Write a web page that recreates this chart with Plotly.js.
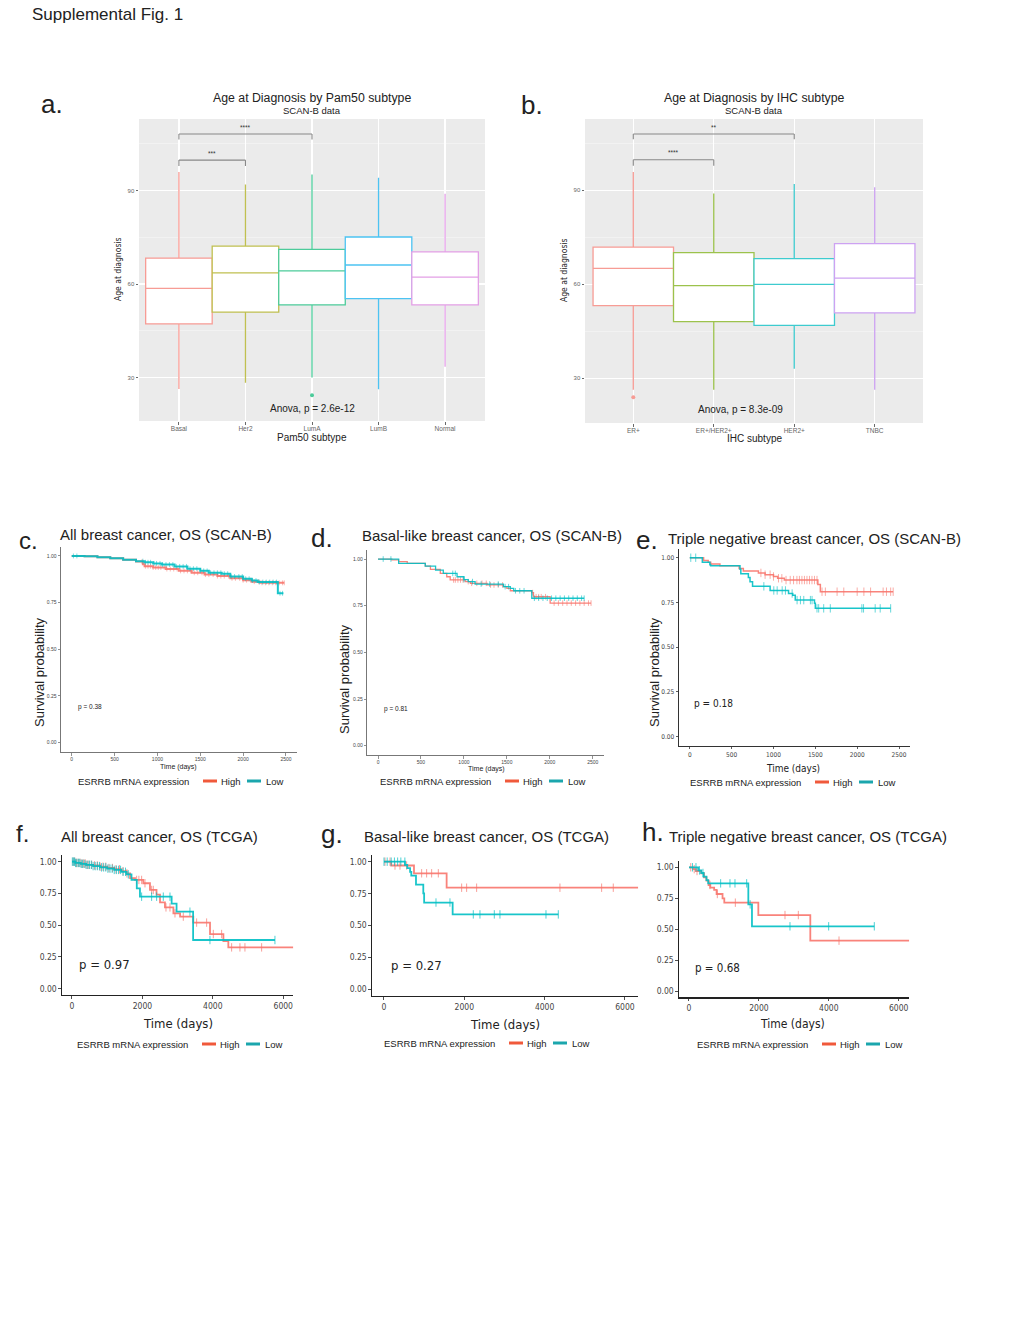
<!DOCTYPE html>
<html><head><meta charset="utf-8">
<script src="https://cdn.plot.ly/plotly-3.0.1.min.js"></script>
<style>html,body{margin:0;padding:0;background:#fff}#fig{width:1020px;height:1320px}</style>
</head><body><div id="fig"></div>
<script>
// ================= DATA =================
// Panel a: Age at diagnosis by Pam50 subtype (box statistics)
const pam50Cats = ['Basal','Her2','LumA','LumB','Normal'];
const pam50Q1 = [47.2,51.0,53.3,55.3,53.3];
const pam50Median = [58.6,63.6,64.2,66.1,62.2];
const pam50Q3 = [68.3,72.2,71.1,75.1,70.3];
const pam50Lower = [26.3,28.3,30.0,26.2,33.4];
const pam50Upper = [96.0,92.0,95.2,94.1,89.0];
const pam50OutCat = ['LumA'];
const pam50OutAge = [24.3];
const pam50Comp = [['Basal','LumA','****'],['Basal','Her2','***']];
const pam50Anova = 'Anova, p = 2.6e-12';

// Panel b: Age at diagnosis by IHC subtype
const ihcCats = ['ER+','ER+/HER2+','HER2+','TNBC'];
const ihcQ1 = [53.2,48.1,46.9,50.9];
const ihcMedian = [65.1,59.6,60.0,62.0];
const ihcQ3 = [71.9,70.1,68.2,73.0];
const ihcLower = [26.3,26.3,33.0,26.3];
const ihcUpper = [95.9,89.0,92.0,91.0];
const ihcOutCat = ['ER+'];
const ihcOutAge = [23.9];
const ihcComp = [['ER+','HER2+','**'],['ER+','ER+/HER2+','****']];
const ihcAnova = 'Anova, p = 8.3e-09';

// Panel c: All breast cancer, OS (SCAN-B)
const cHighT = [0,150,300,450,600,750,830,850,950,1100,1250,1400,1550,1700,1850,2000,2100,2200,2480];
const cHighS = [1,0.998,0.993,0.988,0.98,0.97,0.955,0.945,0.938,0.93,0.92,0.91,0.9,0.892,0.88,0.87,0.862,0.856,0.856];
const cLowT = [0,150,300,450,600,750,850,950,1050,1200,1350,1500,1600,1750,1850,2000,2100,2170,2405,2470];
const cLowS = [1,0.998,0.993,0.987,0.98,0.972,0.966,0.96,0.954,0.944,0.932,0.92,0.91,0.905,0.89,0.878,0.868,0.86,0.8,0.8];
const cHighCens = [820,860,890,920,950,980,1010,1040,1080,1110,1150,1190,1230,1270,1310,1350,1390,1430,1470,1520,1560,1600,1650,1700,1740,1780,1830,1870,1910,1960,2000,2040,2090,2130,2180,2220,2260,2300,2340,2380,2420,2460,2480];
const cLowCens = [20,60,830,860,890,920,960,990,1030,1060,1100,1140,1180,1220,1260,1300,1340,1380,1420,1460,1500,1540,1580,1620,1660,1700,1740,1780,1820,1860,1900,1950,1990,2030,2070,2110,2150,2190,2230,2270,2310,2350,2390,2430,2460];
const cP = 'p = 0.38';

// Panel d: Basal-like breast cancer, OS (SCAN-B)
const dHighT = [0,160,240,340,550,610,725,800,840,1015,1075,1270,1460,1500,1540,1790,1810,2004,2480];
const dHighS = [1,0.995,0.986,0.977,0.962,0.945,0.923,0.905,0.888,0.879,0.87,0.861,0.852,0.843,0.83,0.82,0.798,0.764,0.764];
const dLowT = [0,240,550,670,760,920,1000,1050,1130,1460,1540,1580,1790,2400];
const dLowS = [1,0.977,0.962,0.941,0.923,0.905,0.89,0.879,0.866,0.852,0.843,0.83,0.79,0.79];
const dHighCens = [880,900,930,960,990,1050,1090,1150,1210,1260,1310,1350,1400,1450,1800,1840,1870,1900,1950,2050,2100,2150,2200,2250,2300,2350,2400,2450,2480];
const dLowCens = [60,150,870,900,1000,1100,1200,1300,1400,1480,1520,1600,1650,1700,1820,1870,1920,1970,2020,2070,2120,2170,2220,2270,2320,2370,2400];
const dP = 'p = 0.81';

// Panel e: Triple negative breast cancer, OS (SCAN-B)
const eHighT = [0,165,220,250,360,590,640,820,900,1000,1050,1130,1530,1560,2430];
const eHighS = [1,0.985,0.975,0.965,0.955,0.94,0.925,0.915,0.905,0.895,0.885,0.875,0.85,0.81,0.81];
const eLowT = [0,150,240,250,600,610,700,720,750,960,1180,1230,1260,1490,1500,2400];
const eLowS = [1,0.975,0.96,0.955,0.935,0.91,0.89,0.865,0.84,0.817,0.8,0.79,0.763,0.745,0.717,0.717];
const eHighCens = [850,900,960,1000,1060,1100,1150,1200,1240,1280,1310,1340,1370,1400,1430,1460,1490,1520,1580,1620,1760,1840,2000,2080,2160,2310,2350,2400,2430];
const eLowCens = [12,71,885,1004,1044,1104,1143,1223,1282,1322,1362,1441,1461,1520,1540,1600,1679,2056,2076,2215,2275,2400];
const eP = 'p = 0.18';

// Panel f: All breast cancer, OS (TCGA)
const fHighT = [0,100,250,400,600,800,1000,1200,1400,1550,1650,1790,2025,2215,2400,2500,2640,2880,3070,3445,3920,4300,4440,6285];
const fHighS = [1,0.99,0.985,0.975,0.97,0.96,0.95,0.94,0.925,0.908,0.87,0.856,0.83,0.777,0.74,0.68,0.64,0.593,0.567,0.52,0.43,0.375,0.325,0.325];
const fLowT = [0,100,250,400,600,800,1000,1200,1400,1550,1690,1840,1930,2830,2970,3440,5764];
const fLowS = [1,0.99,0.983,0.975,0.965,0.955,0.945,0.935,0.92,0.9,0.856,0.79,0.724,0.67,0.606,0.383,0.383];
const fHighCens = [30,80,130,180,230,280,330,380,430,480,560,640,720,800,880,960,1050,1150,1250,1350,1450,1560,1836,1900,1978,2073,2262,2309,2669,2783,2925,3161,3540,3824,4013,4250,4534,4770,4912,5386];
const fLowCens = [10,40,70,100,140,180,220,260,300,350,400,450,500,550,600,660,720,780,840,900,960,1020,1080,1140,1200,1260,1320,1380,1450,1520,1600,1978,2262,2404,2593,2783,3350,3918,5764];
const fP = 'p = 0.97';

// Panel g: Basal-like breast cancer, OS (TCGA)
const gHighT = [0,180,747,1560,6330];
const gHighS = [1,0.97,0.909,0.796,0.796];
const gLowT = [0,523,580,650,680,797,979,1000,1710,4341];
const gLowS = [1,0.975,0.95,0.92,0.89,0.82,0.752,0.68,0.587,0.587];
const gHighCens = [25,150,274,398,564,938,1062,1187,1353,1934,2058,2307,4382,5420,5710];
const gLowCens = [0,80,180,260,340,420,520,1295,1643,2224,2390,2747,2888,4034,4341];
const gP = 'p = 0.27';

// Panel h: Triple negative breast cancer, OS (TCGA)
const hHighT = [0,124,200,350,430,500,560,610,720,790,960,1010,1984,3471,6300];
const hHighS = [1,0.985,0.97,0.951,0.919,0.892,0.857,0.836,0.817,0.784,0.749,0.714,0.614,0.407,0.407];
const hLowT = [0,267,350,420,500,550,1698,1802,5302];
const hLowS = [1,0.975,0.954,0.925,0.897,0.87,0.70,0.523,0.523];
const hHighCens = [50,150,230,600,810,1326,2747,3128,4292];
const hLowCens = [100,200,300,400,906,1173,1316,1650,1750,2890,3996,5302];
const hP = 'p = 0.68';

const kmTitles = ['All breast cancer, OS (SCAN-B)','Basal-like breast cancer, OS (SCAN-B)','Triple negative breast cancer, OS (SCAN-B)',
                  'All breast cancer, OS (TCGA)','Basal-like breast cancer, OS (TCGA)','Triple negative breast cancer, OS (TCGA)'];
const groupLabels = ['High','Low'];
const legendTitle = 'ESRRB mRNA expression';

// ================= STYLE / LAYOUT =================
const W=1020,H=1320;
const PX=v=>v/W, PY=v=>1-v/H;
const RED='#F8766D', TEAL='#00BFC4', KEYRED='#F0593B', KEYTEAL='#1BA6AD';
const F='Liberation Sans, Arial, Helvetica, sans-serif';
const FN='DejaVu Sans Condensed, Liberation Sans Narrow, Arial Narrow, sans-serif';
const pamColors=['#F79C95','#C0C050','#4CCB9A','#4CC3F2','#E3A0E6'];
const ihcColors=['#F79C95','#9CC24C','#3ECBCF','#CDA2F2'];

function stepAt(T,S,t){let v=S[0];for(let i=0;i<T.length;i++){if(T[i]<=t)v=S[i];else break;}return v;}

const traces=[], shapes=[], annotations=[];
const layout={width:W,height:H,margin:{l:0,r:0,t:0,b:0},paper_bgcolor:'white',plot_bgcolor:'rgba(0,0,0,0)',
  showlegend:false,font:{family:F,color:'#222'},hovermode:false};

function txt(text,x,y,size,opts){annotations.push(Object.assign({text:text,x:PX(x),y:PY(y),xref:'paper',yref:'paper',
  showarrow:false,xanchor:'left',yanchor:'middle',font:{family:F,size:size,color:'#222'}},opts||{}));}

// ---- Box panels ----
function boxPanel(ax,cats,q1,med,q3,lo,hi,outCat,outAge,colors,comp,anova,cfg){
  const xa='x'+(ax===1?'':ax), ya='y'+(ax===1?'':ax);
  cats.forEach((c,i)=>{
    traces.push({type:'box',x:[c],q1:[q1[i]],median:[med[i]],q3:[q3[i]],lowerfence:[lo[i]],upperfence:[hi[i]],
      xaxis:xa,yaxis:ya,width:1,whiskerwidth:0,fillcolor:'white',boxpoints:false,
      line:{color:colors[i],width:1.3},hoverinfo:'skip'});
  });
  outCat.forEach((c,i)=>{
    traces.push({type:'scatter',mode:'markers',x:[c],y:[outAge[i]],xaxis:xa,yaxis:ya,
      marker:{color:colors[cats.indexOf(c)],size:4},hoverinfo:'skip'});
  });
  const axn=ax===1?'':ax;
  layout['xaxis'+axn]={domain:[PX(cfg.l),PX(cfg.r)],anchor:ya,type:'category',categoryorder:'array',categoryarray:cats,
    range:[-0.6,cats.length-0.4],showgrid:true,gridcolor:'white',gridwidth:1.2,zeroline:false,showline:false,
    ticks:'outside',ticklen:2.5,tickcolor:'#444',tickwidth:0.8,ticklabelstandoff:-1,
    tickfont:{size:6.5,color:'#666',family:F},fixedrange:true};
  layout['yaxis'+axn]={domain:[PY(cfg.b),PY(cfg.t)],anchor:xa,range:cfg.yr,tickvals:[30,60,90],
    showgrid:true,gridcolor:'white',gridwidth:1.2,zeroline:false,showline:false,
    minor:{tickvals:[45,75,105],showgrid:true,gridcolor:'#F6F6F6',gridwidth:0.6,ticks:''},
    ticks:'outside',ticklen:2.5,tickcolor:'#444',tickwidth:0.8,tickfont:{size:6,color:'#666',family:F},fixedrange:true};
  shapes.push({type:'rect',xref:xa+' domain',yref:ya+' domain',x0:0,x1:1,y0:0,y1:1,fillcolor:'#EBEBEB',line:{width:0},layer:'below'});
  comp.forEach((cp,k)=>{
    const i0=cats.indexOf(cp[0]), i1=cats.indexOf(cp[1]);
    const yTop=cfg.br[k][0], yLeg=cfg.br[k][1];
    const ln={color:'#888',width:1.1};
    shapes.push({type:'line',xref:xa,yref:ya,x0:i0,x1:i1,y0:yTop,y1:yTop,line:ln});
    shapes.push({type:'line',xref:xa,yref:ya,x0:i0,x1:i0,y0:yLeg,y1:yTop,line:ln});
    shapes.push({type:'line',xref:xa,yref:ya,x0:i1,x1:i1,y0:yLeg,y1:yTop,line:ln});
    annotations.push({text:cp[2],xref:xa,yref:ya,x:(i0+i1)/2,y:yTop+2.2,showarrow:false,font:{size:6.5,color:'#333',family:F}});
  });
  annotations.push({text:anova,xref:xa,yref:ya,x:cfg.anX,y:20,showarrow:false,font:{size:10,color:'#222',family:F}});
  const cx=(cfg.l+cfg.r)/2;
  txt(cfg.title,cx,cfg.t-20.5,12.3,{xanchor:'center'});
  txt('SCAN-B data',cx,cfg.t-9,9.5,{xanchor:'center'});
  txt(cfg.xtitle,cx,cfg.b+16,10,{xanchor:'center'});
  txt('Age at diagnosis',cfg.l-21,(cfg.t+cfg.b)/2,8.5,{xanchor:'center',textangle:-90,font:{family:FN,size:8.5,color:'#222'}});
}

boxPanel(1,pam50Cats,pam50Q1,pam50Median,pam50Q3,pam50Lower,pam50Upper,pam50OutCat,pam50OutAge,pamColors,pam50Comp,pam50Anova,
  {l:139,r:485,t:119,b:421,yr:[16,113],br:[[108.2,106.4],[99.8,97.9]],anX:2,title:'Age at Diagnosis by Pam50 subtype',xtitle:'Pam50 subtype'});
boxPanel(2,ihcCats,ihcQ1,ihcMedian,ihcQ3,ihcLower,ihcUpper,ihcOutCat,ihcOutAge,ihcColors,ihcComp,ihcAnova,
  {l:585,r:923,t:119,b:423,yr:[15.7,112.8],br:[[108.0,106.3],[99.8,97.9]],anX:1.33,title:'Age at Diagnosis by IHC subtype',xtitle:'IHC subtype'});

// ---- KM panels ----
const kmData=[
  [cHighT,cHighS,cLowT,cLowS,cHighCens,cLowCens,cP],
  [dHighT,dHighS,dLowT,dLowS,dHighCens,dLowCens,dP],
  [eHighT,eHighS,eLowT,eLowS,eHighCens,eLowCens,eP],
  [fHighT,fHighS,fLowT,fLowS,fHighCens,fLowCens,fP],
  [gHighT,gHighS,gLowT,gLowS,gHighCens,gLowCens,gP],
  [hHighT,hHighS,hLowT,hLowS,hHighCens,hLowCens,hP]];
const kmCfg=[
  {l:61,r:296.7,t:546.6,b:752,xr:[-125,2625],dt:500,tf:5,tfam:F,lc:'#777',lw:1,lwid:2,ms:3.5,mop:0.5,so:-1,
   title:[58,534],ytitle:[40,672],xtitle:[178,766.5,7,F],p:[76,707,6.5,F],leg:[76,781]},
  {l:367.3,r:603.5,t:549.7,b:755,xr:[-125,2625],dt:500,tf:5,tfam:F,lc:'#777',lw:1,lwid:1.3,ms:4,mop:0.6,so:-1,
   title:[360,536],ytitle:[344,679],xtitle:[486,768.5,7,F],p:[382,709,6.5,F],leg:[378,781]},
  {l:679.3,r:909.5,t:548.75,b:745.65,xr:[-125,2625],dt:500,tf:6.5,tfam:FN,lc:'#333',lw:1.2,lwid:1.5,ms:6,mop:0.6,so:0,
   title:[666,538],ytitle:[655,672],xtitle:[793,769,10,FN],p:[692,703,10,FN],leg:[688,782]},
  {l:62.3,r:293.3,t:855.3,b:995,xr:[-275,6285],dt:2000,tf:8.5,tfam:FN,lc:'#222',lw:1.4,lwid:1.8,ms:6,mop:0.7,so:0,
   title:[59,837],ytitle:null,xtitle:[178,1023,13,FN],p:[77,964,13,FN],leg:[75,1044]},
  {l:372.3,r:638.3,t:855.3,b:995.7,xr:[-291,6333],dt:2000,tf:8.5,tfam:FN,lc:'#222',lw:1.4,lwid:1.8,ms:6,mop:0.7,so:0,
   title:[362,837],ytitle:null,xtitle:[505,1024,13,FN],p:[389,965,13,FN],leg:[382,1043]},
  {l:679.3,r:909.3,t:861.1,b:997.2,xr:[-277,6303],dt:2000,tf:8.5,tfam:FN,lc:'#222',lw:1.4,lwid:1.8,ms:6,mop:0.7,so:0,
   title:[667,836],ytitle:null,xtitle:[792,1024,12,FN],p:[693,968,11.5,FN],leg:[695,1044]}];

kmData.forEach((d,k)=>{
  const c=kmCfg[k], n=k+3, xa='x'+n, ya='y'+n;
  const series=[[d[0],d[1],d[4],RED],[d[2],d[3],d[5],TEAL]];
  series.forEach(s=>{
    traces.push({type:'scatter',mode:'lines',x:s[0],y:s[1],xaxis:xa,yaxis:ya,line:{shape:'hv',color:s[3],width:c.lwid},opacity:0.9,hoverinfo:'skip'});
    traces.push({type:'scatter',mode:'markers',x:s[2],y:s[2].map(t=>stepAt(s[0],s[1],t)),xaxis:xa,yaxis:ya,opacity:c.mop,
      marker:{symbol:'line-ns-open',size:c.ms,color:s[3],line:{color:s[3],width:1}},hoverinfo:'skip'});
  });
  layout['xaxis'+n]={domain:[PX(c.l),PX(c.r)],anchor:ya,range:c.xr,dtick:c.dt,tick0:0,showgrid:false,zeroline:false,
    showline:true,linecolor:c.lc,linewidth:c.lw,ticks:'outside',ticklen:2.5,tickcolor:c.lc,tickwidth:0.8,ticklabelstandoff:c.so,
    tickfont:{size:c.tf,family:c.tfam,color:'#444'},fixedrange:true};
  layout['yaxis'+n]={domain:[PY(c.b),PY(c.t)],anchor:xa,range:[-0.05,1.05],tickvals:[0,0.25,0.5,0.75,1],
    ticktext:['0.00','0.25','0.50','0.75','1.00'],showgrid:false,zeroline:false,
    showline:true,linecolor:c.lc,linewidth:c.lw,ticks:'outside',ticklen:2.5,tickcolor:c.lc,tickwidth:0.8,
    tickfont:{size:c.tf,family:c.tfam,color:'#444'},fixedrange:true};
  txt(kmTitles[k],c.title[0],c.title[1],15);
  if(c.ytitle) txt('Survival probability',c.ytitle[0],c.ytitle[1],13,{xanchor:'center',textangle:-90});
  txt('Time (days)',c.xtitle[0],c.xtitle[1],c.xtitle[2],{xanchor:'center',font:{family:c.xtitle[3],size:c.xtitle[2],color:'#222'}});
  txt(d[6],c.p[0],c.p[1],c.p[2],{font:{family:c.p[3],size:c.p[2],color:'#222'}});
  const lx=c.leg[0], ly=c.leg[1];
  txt(legendTitle,lx,ly,9.5);
  shapes.push({type:'line',xref:'paper',yref:'paper',x0:PX(lx+127),x1:PX(lx+141),y0:PY(ly),y1:PY(ly),line:{color:KEYRED,width:3}});
  txt(groupLabels[0],lx+143,ly,9.5);
  shapes.push({type:'line',xref:'paper',yref:'paper',x0:PX(lx+171),x1:PX(lx+185),y0:PY(ly),y1:PY(ly),line:{color:KEYTEAL,width:3}});
  txt(groupLabels[1],lx+188,ly,9.5);
});

// ---- Figure & panel labels ----
txt('Supplemental Fig. 1',30,14,17);
[['a.',39,104,26],['b.',519,105,26],['c.',17,540,24],['d.',309,538,26],['e.',634,540,26],
 ['f.',14,833,24],['g.',319,834,26],['h.',640,832,26]].forEach(l=>txt(l[0],l[1],l[2],l[3]));

layout.shapes=shapes; layout.annotations=annotations;
Plotly.newPlot('fig',traces,layout,{staticPlot:true,displayModeBar:false});
</script></body></html>
